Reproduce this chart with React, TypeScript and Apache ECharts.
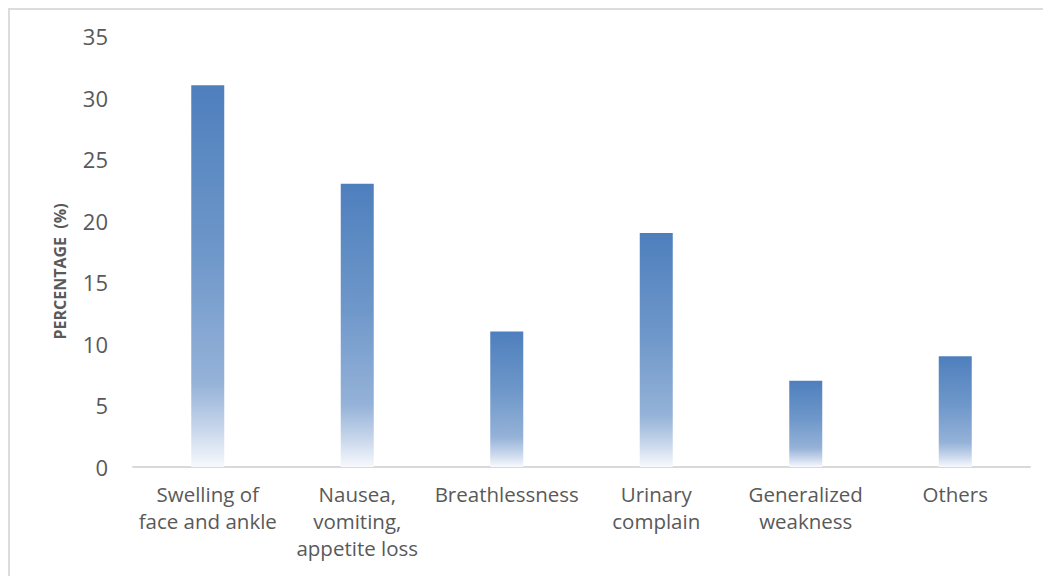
import React, { useEffect, useRef } from "react";
import * as echarts from "echarts";

const categories = [
  "Swelling of\nface and ankle",
  "Nausea,\nvomiting,\nappetite loss",
  "Breathlessness",
  "Urinary\ncomplain",
  "Generalized\nweakness",
  "Others",
];
const values = [31, 23, 11, 19, 7, 9];
const yTicks = { min: 0, max: 35, interval: 5 };
const yTitle = "PERCENTAGE  (%)";

export default function App() {
  const ref = useRef<HTMLDivElement>(null);
  useEffect(() => {
    if (!ref.current) return;
    const chart = echarts.init(ref.current, undefined, { renderer: "svg" });
    const textColor = "#595959";
    const font = "'Open Sans', 'Liberation Sans', sans-serif";
    chart.setOption({
      animation: false,
      backgroundColor: "#ffffff",
      grid: { left: 123, right: 21, top: 26, bottom: 109 },
      xAxis: {
        type: "category",
        data: categories,
        axisLine: { lineStyle: { color: "#d9d9d9", width: 2 } },
        axisTick: { show: false },
        axisLabel: {
          color: textColor,
          fontFamily: font,
          fontSize: 20.5,
          lineHeight: 27,
          margin: 13,
          interval: 0,
        },
      },
      yAxis: {
        type: "value",
        min: yTicks.min,
        max: yTicks.max,
        interval: yTicks.interval,
        name: yTitle,
        nameLocation: "middle",
        nameGap: 65,
        nameTextStyle: {
          color: textColor,
          fontFamily: font,
          fontSize: 16,
          fontWeight: "bold",
          padding: [0, 40, 0, 0],
        },
        axisLine: { show: false },
        axisTick: { show: false },
        splitLine: { show: false },
        axisLabel: {
          color: textColor,
          fontFamily: font,
          fontSize: 22,
          margin: 25,
        },
      },
      series: [
        {
          type: "bar",
          data: values,
          barWidth: 33,
          itemStyle: {
            color: new echarts.graphic.LinearGradient(0, 0, 0, 1, [
              { offset: 0, color: "#4e7fbd" },
              { offset: 0.45, color: "#6f98ca" },
              { offset: 0.78, color: "#95b2d8" },
              { offset: 0.9, color: "#c7d6eb" },
              { offset: 1, color: "#f7f9fd" },
            ]),
          },
        },
      ],
    });
    return () => chart.dispose();
  }, []);
  return (
    <div
      style={{
        width: 1043,
        height: 568,
        boxSizing: "border-box",
        borderTop: "2px solid #dcdcdc",
        borderLeft: "2px solid #dcdcdc",
        overflow: "hidden",
      }}
    >
      <div ref={ref} style={{ width: 1041, height: 566 }} />
    </div>
  );
}
